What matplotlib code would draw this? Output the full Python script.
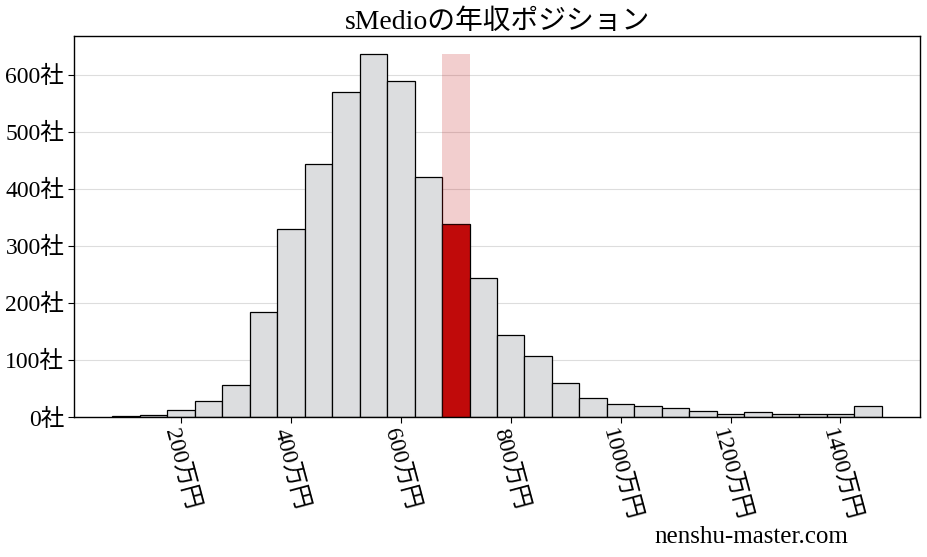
import numpy as np
import matplotlib
matplotlib.use("Agg")
import matplotlib.pyplot as plt

plt.rcParams['font.family'] = ['Liberation Serif', 'Noto Sans CJK JP']

# histogram bins (万円) and counts per bin
bin_left = [75, 125, 175, 225, 275, 325, 375, 425, 475, 525, 575, 625, 675, 725,
            775, 825, 875, 925, 975, 1025, 1075, 1125, 1175, 1225, 1275, 1325, 1375, 1425]
counts = [2, 4, 12, 28, 57, 184, 330, 444, 569, 636, 589, 420, 338, 244,
          144, 107, 59, 33, 22, 19, 15, 10, 6, 8, 6, 5, 5, 19]
bin_width = 50
highlight_left = 675

xticks = [200, 400, 600, 800, 1000, 1200, 1400]
yticks = [0, 100, 200, 300, 400, 500, 600]

fig = plt.figure(figsize=(9.27, 5.57), dpi=100)
ax = fig.add_axes([0.0798, 0.2513, 0.9127, 0.6841])

colors = ['#c00a0a' if b == highlight_left else '#dcdddf' for b in bin_left]
ax.bar(bin_left, counts, width=bin_width, align='edge', color=colors,
       edgecolor='black', linewidth=0.9, zorder=2)
# highlight band behind the selected bin
ax.bar([highlight_left], [max(counts)], width=bin_width, align='edge',
       color='#c00a0a', alpha=0.2, linewidth=0, zorder=3)

ax.set_ylim(0, max(counts) * 1.05)
ax.set_xlim(bin_left[0] - 70, bin_left[-1] + bin_width + 70)

ax.set_xticks(xticks)
ax.set_xticklabels([f"{t}万円" for t in xticks], rotation=-75, fontsize=17)
ax.set_yticks(yticks)
ax.set_yticklabels([f"{t}社" for t in yticks], fontsize=17)
ax.tick_params(axis='both', length=4, pad=3)

ax.yaxis.grid(True, color='#dddddd', linewidth=0.8, zorder=0)
ax.set_axisbelow(True)
for s in ax.spines.values():
    s.set_color('black')
    s.set_linewidth(1.0)

ax.set_title("sMedioの年収ポジション", fontsize=20, pad=5)
fig.text(0.915, 0.036, "nenshu-master.com", ha='right', va='center', fontsize=18)

fig.savefig("out.png", dpi=100)
